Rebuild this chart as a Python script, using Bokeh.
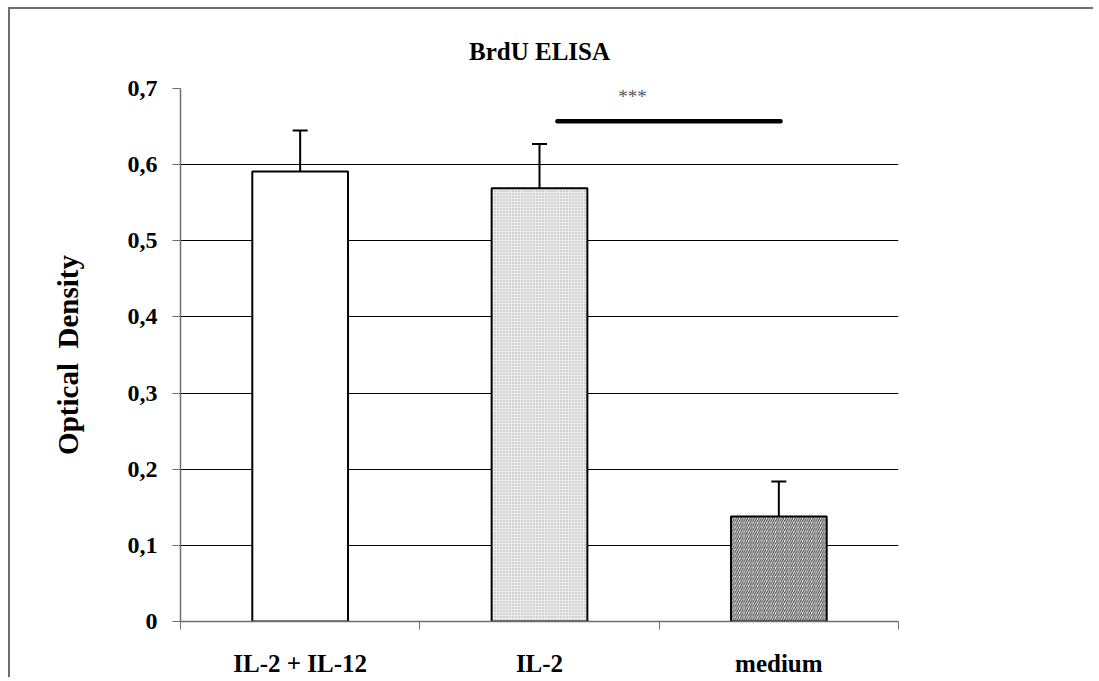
import math
from bokeh.plotting import figure
from bokeh.models import Range1d, FixedTicker, Label, Whisker, TeeHead, ColumnDataSource
from bokeh.embed import file_html
from bokeh.resources import INLINE

# ---- data ----
categories = ["IL-2 + IL-12", "IL-2", "medium"]
means = [0.591, 0.569, 0.138]
err_top = [0.645, 0.627, 0.184]
y_ticks = [0.0, 0.1, 0.2, 0.3, 0.4, 0.5, 0.6, 0.7]
y_tick_labels = ["0", "0,1", "0,2", "0,3", "0,4", "0,5", "0,6", "0,7"]
title_text = "BrdU ELISA"
y_label_text = "Optical\u00a0\u00a0Density"
sig_text = "***"
sig_pair = (1, 2)
sig_level = 0.657

FONT = "Liberation Serif"

W, H = 1085, 670
p = figure(width=W, height=H, x_range=Range1d(0, 3), y_range=Range1d(0, 0.7),
           min_border_left=170, min_border_right=W - 888, min_border_top=79,
           min_border_bottom=H - 612,
           output_backend="svg", toolbar_location=None)
p.styles = {"margin-left": "8px", "margin-top": "7px",
            "border-left": "2px solid #6e6e6e", "border-top": "2px solid #6e6e6e"}
p.outline_line_color = None
p.background_fill_color = "white"
p.border_fill_color = "white"

p.title.text = title_text
p.title.align = "center"
p.title.text_font = FONT
p.title.text_font_style = "bold"
p.title.text_font_size = "25px"
p.title.text_color = "black"
p.title.standoff = 48

pos = [i + 0.5 for i in range(len(categories))]

# x axis
p.xaxis.ticker = FixedTicker(ticks=pos, minor_ticks=list(range(len(categories) + 1)))
p.xaxis.major_label_overrides = {pos[i]: categories[i] for i in range(len(categories))}
p.xaxis.major_tick_out = 0
p.xaxis.major_tick_in = 0
p.xaxis.minor_tick_out = 8
p.xaxis.minor_tick_in = 0
p.xaxis.minor_tick_line_color = "#6e6e6e"
p.xaxis.axis_line_color = "#6e6e6e"
p.xaxis.axis_line_width = 1.5
p.xaxis.major_label_standoff = 20
p.xaxis.major_label_text_font = FONT
p.xaxis.major_label_text_font_style = "bold"
p.xaxis.major_label_text_font_size = "25px"
p.xaxis.major_label_text_color = "black"

# y axis
p.yaxis.ticker = FixedTicker(ticks=y_ticks)
p.yaxis.major_label_overrides = {t: l for t, l in zip(y_ticks, y_tick_labels)}
p.yaxis.major_tick_out = 8
p.yaxis.major_tick_in = 0
p.yaxis.minor_tick_line_color = None
p.yaxis.major_tick_line_color = "#6e6e6e"
p.yaxis.axis_line_color = "#6e6e6e"
p.yaxis.axis_line_width = 1.5
p.yaxis.major_label_standoff = 15
p.yaxis.major_label_text_font = FONT
p.yaxis.major_label_text_font_style = "bold"
p.yaxis.major_label_text_font_size = "24px"
p.yaxis.major_label_text_color = "black"
p.yaxis.axis_label = y_label_text
p.yaxis.axis_label_text_font = FONT
p.yaxis.axis_label_text_font_style = "bold"
p.yaxis.axis_label_text_font_size = "29px"
p.yaxis.axis_label_text_color = "black"
p.yaxis.axis_label_standoff = 41

p.xgrid.grid_line_color = None
p.ygrid.grid_line_color = "black"
p.ygrid.grid_line_width = 1
p.ygrid.ticker = FixedTicker(ticks=y_ticks[1:])

# bars
bw = 0.4
p.vbar(x=[pos[0]], top=[means[0]], width=bw, fill_color="white",
       line_color="black", line_width=2)
p.vbar(x=[pos[1]], top=[means[1]], width=bw, fill_color="#ececec",
       hatch_pattern="dot", hatch_color="#a8a8a8", hatch_scale=3, hatch_weight=1,
       line_color="black", line_width=2)
p.vbar(x=[pos[2]], top=[means[2]], width=bw, fill_color="white",
       hatch_pattern="/", hatch_color="#444444", hatch_scale=4.5, hatch_weight=1.2,
       line_color="black", line_width=2)

# error bars (upper only)
src = ColumnDataSource(dict(x=pos, lower=means, upper=err_top))
p.add_layout(Whisker(source=src, base="x", lower="lower", upper="upper",
                     line_color="black", line_width=2,
                     upper_head=TeeHead(size=15, line_color="black", line_width=2),
                     lower_head=None))

# significance bar
x0 = pos[sig_pair[0]] + 0.075
x1 = pos[sig_pair[1]] + 0.007
p.line([x0, x1], [sig_level, sig_level], line_color="black", line_width=4.5, line_cap="round")
p.add_layout(Label(x=x0 + 0.314, y=sig_level + 0.033, text=sig_text,
                   text_align="center", text_baseline="middle",
                   text_font=FONT, text_font_size="19px", text_color="#555555"))

open("out.html", "w").write(file_html(p, INLINE))
